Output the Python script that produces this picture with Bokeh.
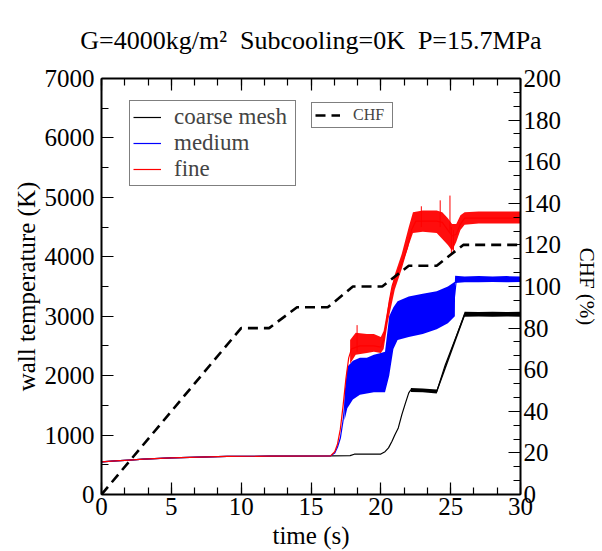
import math
from bokeh.plotting import figure
from bokeh.models import (Range1d, LinearAxis, SingleIntervalTicker, Legend,
                          LegendItem)
from bokeh.embed import file_html
from bokeh.resources import INLINE

FONT = "Liberation Serif"

# ---------------- data ----------------
# critical heat flux, percent (right axis)
chf_t = [0, 10, 12, 14, 16.2, 18.0, 20.1, 22.0, 24.0, 25.9, 30]
chf_v = [0, 80, 80, 90, 90, 100, 100, 110, 110, 120, 120]

# coarse mesh wall temperature (K)
coarse_t = [0, 1, 2, 3, 5, 7, 9, 12, 16.4, 17.8, 18.1, 20.0, 20.3, 20.55, 20.8,
            21.0, 21.25, 21.5, 21.75, 22.0, 22.15, 24.0, 24.6, 26.0, 30]
coarse_T = [550, 565, 580, 595, 615, 630, 640, 645, 650, 655, 678, 680, 720, 785, 895,
            1000, 1120, 1340, 1530, 1710, 1760, 1730, 2170, 3030, 3030]
coarse_band_t = [22.15, 23.0, 24.0, 26.0, 27.0, 28.0, 29.0, 30.0]
coarse_band_lo = [1725, 1720, 1700, 2990, 2995, 2990, 2995, 2990]
coarse_band_hi = [1790, 1785, 1765, 3075, 3070, 3075, 3070, 3075]

# medium mesh wall temperature (K)
medium_t = [0, 1, 2, 3, 5, 7, 9, 12, 16.4, 16.7, 16.9, 17.1, 17.3, 17.5, 18.0, 19.0,
            20.0, 20.3, 20.6, 21.0, 21.5, 22.0, 23.0, 24.0, 24.8, 25.25, 25.4, 26.0, 30]
medium_T = [550, 565, 580, 595, 615, 630, 640, 645, 650, 700, 800, 950, 1250, 1700,
            1950, 2000, 2020, 2050, 2450, 2850, 2950, 3000, 3030, 3080, 3200, 3280,
            3600, 3620, 3620]
medium_band_t = [17.4, 17.6, 18.0, 18.5, 19.0, 19.5, 20.0, 20.3, 20.6, 20.9, 21.2,
                 22.0, 23.0, 24.0, 24.8, 25.3, 25.32, 26.0, 27.0, 28.0, 29.0, 30.0]
medium_band_lo = [1250, 1450, 1600, 1680, 1700, 1720, 1720, 1720, 2000, 2450, 2600,
                  2650, 2700, 2780, 2880, 3000, 3560, 3570, 3570, 3575, 3570, 3575]
medium_band_hi = [1700, 2150, 2250, 2300, 2300, 2350, 2380, 2400, 3000, 3150, 3250,
                  3330, 3380, 3420, 3500, 3580, 3680, 3670, 3675, 3670, 3675, 3670]

# fine mesh wall temperature (K)
fine_t = [0, 1, 2, 3, 5, 7, 9, 12, 16.4, 16.7, 16.9, 17.1, 17.3, 17.5, 17.7, 17.9,
          18.5, 19.0, 19.5, 20.0, 20.2, 20.4, 20.6, 20.8, 21.0, 21.3, 21.6, 21.9, 22.2,
          22.5, 23.0, 23.5, 24.0, 24.4, 24.8, 25.1, 25.4, 25.7, 26.0, 27, 28, 29, 30]
fine_T = [550, 565, 580, 595, 615, 630, 640, 645, 650, 720, 850, 1100, 1500, 1950,
          2300, 2450, 2500, 2500, 2500, 2480, 2600, 2900, 3250, 3500, 3650, 3800, 3950,
          4150, 4450, 4600, 4600, 4600, 4600, 4580, 4450, 4350, 4380, 4550, 4650, 4650,
          4650, 4650, 4650]
fine_band_t = [17.8, 18.2, 19.0, 19.5, 20.0, 20.2, 20.5, 21.0, 21.5, 22.0, 22.3, 23.0,
               24.0, 24.4, 24.8, 25.1, 25.4, 25.7, 26.0, 27.0, 28.0, 29.0, 30.0]
fine_band_lo = [2200, 2350, 2380, 2400, 2380, 2450, 2900, 3450, 3800, 4200, 4400, 4420,
                4400, 4300, 4200, 4100, 4250, 4450, 4540, 4560, 4560, 4560, 4560]
fine_band_hi = [2600, 2720, 2700, 2700, 2650, 2750, 3150, 3700, 4050, 4500, 4750, 4780,
                4780, 4750, 4650, 4550, 4550, 4700, 4750, 4760, 4760, 4760, 4760]
# isolated spikes of the fine-mesh signal
fine_spike_t = [18.3, 22.9, 24.25, 24.95, 25.05, 25.2]
fine_spike_lo = [2400, 4500, 4500, 4400, 4050, 4100]
fine_spike_hi = [2850, 4850, 4950, 5030, 4500, 4450]

# axis setup
x_range = (0, 30)
t_range = (0, 7000)
chf_range = (0, 200)

NB = "\u00a0"
title_text = "G=4000kg/m\u00b2" + NB * 2 + "Subcooling=0K" + NB * 2 + "P=15.7MPa"
x_label = "time (s)"
y_label = "wall temperature (K)"
y2_label = "CHF (%)"

# ---------------- figure ----------------
p = figure(width=602, height=551, output_backend="svg", toolbar_location=None,
           x_range=Range1d(*x_range), y_range=Range1d(*t_range),
           min_border_left=101, min_border_right=79, min_border_top=77,
           min_border_bottom=54, x_axis_location=None, y_axis_location=None,
           title=title_text)
p.outline_line_color = None
p.xgrid.grid_line_color = None
p.ygrid.grid_line_color = None
p.background_fill_color = "white"
p.border_fill_color = "white"
p.extra_y_ranges = {"chf": Range1d(*chf_range)}

p.title.text_font = FONT
p.title.text_font_size = "26px"
p.title.text_font_style = "normal"
p.title.align = "center"
p.title.standoff = 47
p.title.text_line_height = 1.0
p.title.text_color = "black"


def style_axis(ax, standoff, label_size="25px", show_labels=True):
    ax.axis_line_width = 2
    ax.axis_line_color = "black"
    ax.major_tick_in = 12
    ax.major_tick_out = 0
    ax.minor_tick_in = 7
    ax.minor_tick_out = 0
    ax.major_tick_line_width = 1.2
    ax.minor_tick_line_width = 1.2
    ax.major_label_text_font = FONT
    ax.major_label_text_font_size = label_size
    ax.major_label_text_color = "black" if show_labels else None
    ax.major_label_standoff = standoff
    ax.major_label_text_line_height = 1.0
    ax.axis_label_text_font = FONT
    ax.axis_label_text_font_style = "normal"
    ax.axis_label_text_color = "black"
    ax.axis_label_text_line_height = 1.0


xb = LinearAxis(ticker=SingleIntervalTicker(interval=5, num_minor_ticks=3),
                axis_label=x_label)
style_axis(xb, 3)
xb.axis_label_text_font_size = "25px"
xb.axis_label_standoff = 4
p.add_layout(xb, "below")

xt = LinearAxis(ticker=SingleIntervalTicker(interval=5, num_minor_ticks=3))
style_axis(xt, 3, label_size="1px", show_labels=False)
p.add_layout(xt, "above")

yl = LinearAxis(ticker=SingleIntervalTicker(interval=1000, num_minor_ticks=2),
                axis_label=y_label)
style_axis(yl, 7)
yl.axis_label_text_font_size = "25px"
yl.axis_label_standoff = 2
p.add_layout(yl, "left")

yr = LinearAxis(y_range_name="chf",
                ticker=SingleIntervalTicker(interval=20, num_minor_ticks=3),
                axis_label=y2_label)
style_axis(yr, 3)
yr.axis_label_text_font_size = "21px"
yr.axis_label_standoff = 11
p.add_layout(yr, "right")

# ---------------- data glyphs ----------------
p.varea(x=coarse_band_t, y1=coarse_band_lo, y2=coarse_band_hi, fill_color="black")
r_coarse = p.line(coarse_t, coarse_T, line_color="black", line_width=1.2)

p.varea(x=medium_band_t, y1=medium_band_lo, y2=medium_band_hi, fill_color="#0000ff")
r_medium = p.line(medium_t, medium_T, line_color="#0000ff", line_width=1.2)

p.varea(x=fine_band_t, y1=fine_band_lo, y2=fine_band_hi, fill_color="#ff0000",
        fill_alpha=0.95)
p.segment(x0=fine_spike_t, y0=fine_spike_lo, x1=fine_spike_t, y1=fine_spike_hi,
          line_color="#ff0000", line_width=1)
r_fine = p.line(fine_t, fine_T, line_color="#ff0000", line_width=1.2)

r_chf = p.line(chf_t, chf_v, y_range_name="chf", line_color="black", line_width=2.6,
               line_dash="10 6")

# ---------------- legends ----------------
leg1 = Legend(items=[LegendItem(label="coarse mesh", renderers=[r_coarse]),
                     LegendItem(label="medium", renderers=[r_medium]),
                     LegendItem(label="fine", renderers=[r_fine])],
              location=(28, 308))
leg1.label_text_font = FONT
leg1.label_text_font_size = "23px"
leg1.label_text_line_height = 0.95
leg1.glyph_width = 28
leg1.glyph_height = 18
leg1.label_height = 18
leg1.label_width = 118
leg1.label_standoff = 13
leg1.padding = 3
leg1.spacing = 0
leg1.margin = 0
leg1.border_line_color = "black"
leg1.border_line_width = 1.5
leg1.background_fill_color = "white"
leg1.background_fill_alpha = 1
p.add_layout(leg1)

leg2 = Legend(items=[LegendItem(label="CHF", renderers=[r_chf])], location=(210, 366))
leg2.label_text_font = FONT
leg2.label_text_font_size = "16px"
leg2.glyph_width = 25
leg2.glyph_height = 16
leg2.label_height = 16
leg2.label_width = 36
leg2.label_standoff = 13
leg2.padding = 3
leg2.margin = 0
leg2.border_line_color = "black"
leg2.border_line_width = 1.5
leg2.background_fill_color = "white"
leg2.background_fill_alpha = 1
p.add_layout(leg2)

open("out.html", "w").write(file_html(p, INLINE))
